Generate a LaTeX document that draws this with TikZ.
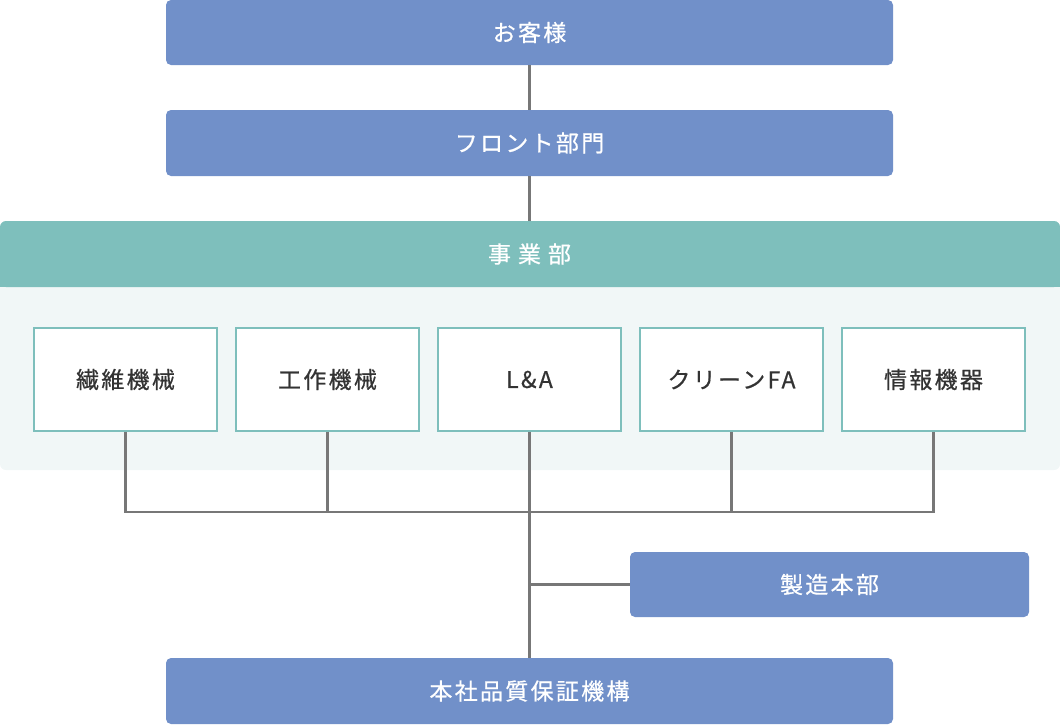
\documentclass[tikz,border=0pt]{standalone}
\usepackage{fontspec}
\setmainfont{Noto Sans CJK JP}[LetterSpace=10,FakeBold=0.6]
\definecolor{bluebox}{HTML}{7190C9}
\definecolor{tealbox}{HTML}{7EBFBC}
\definecolor{panel}{HTML}{F1F7F7}
\definecolor{txt}{HTML}{333333}
\definecolor{ln}{HTML}{777777}
\begin{document}
\begin{tikzpicture}[x=1pt,y=-1pt,
  bb/.style={fill=bluebox,rounded corners=5pt,text=white,font=\fontsize{23}{26}\selectfont,inner sep=0pt},
  ib/.style={fill=white,draw=tealbox,line width=1.5pt,text=txt,font=\fontsize{23}{26}\selectfont,inner sep=0pt,minimum width=183pt,minimum height=103pt},
  cn/.style={draw=ln,line width=2.2pt}]
\useasboundingbox (0,0) rectangle (1060,724);
\fill[panel,rounded corners=6pt] (0,221) rectangle (1060,470);
\fill[tealbox,rounded corners=6pt] (0,221) rectangle (1060,287);
\fill[tealbox] (0,270) rectangle (1060,287);
\node[text=white,font=\fontsize{23}{26}\selectfont] (jig) at (529.5,254) {事\hspace{7pt}業\hspace{7pt}部};
\node[bb,minimum width=727pt,minimum height=65pt] (kyaku) at (529.5,32.5) {お客様};
\node[bb,minimum width=727pt,minimum height=66pt] (front) at (529.5,143) {フロント部門};
\node[ib] (b1) at (125.5,379.5) {繊維機械};
\node[ib] (b2) at (327.5,379.5) {工作機械};
\node[ib] (b3) at (529.5,379.5) {L\&A};
\node[ib] (b4) at (731.5,379.5) {クリーンFA};
\node[ib] (b5) at (933.5,379.5) {情報機器};
\node[bb,minimum width=399pt,minimum height=65pt] (seizo) at (829.5,584.5) {製造本部};
\node[bb,minimum width=727pt,minimum height=66pt] (honsha) at (529.5,691) {本社品質保証機構};
\coordinate (j) at (529.5,512);
\coordinate (s) at (529.5,584.5);
\draw[cn] (kyaku) -- (front);
\draw[cn] (front.south) -- (front.south |- 0,221);
\draw[cn] (b1.south) |- (j);
\draw[cn] (b2.south) |- (j);
\draw[cn] (b4.south) |- (j);
\draw[cn] (b5.south) |- (j);
\draw[cn] (b3.south) -- (honsha.north);
\draw[cn] (s) -- (seizo.west);
\end{tikzpicture}
\end{document}
